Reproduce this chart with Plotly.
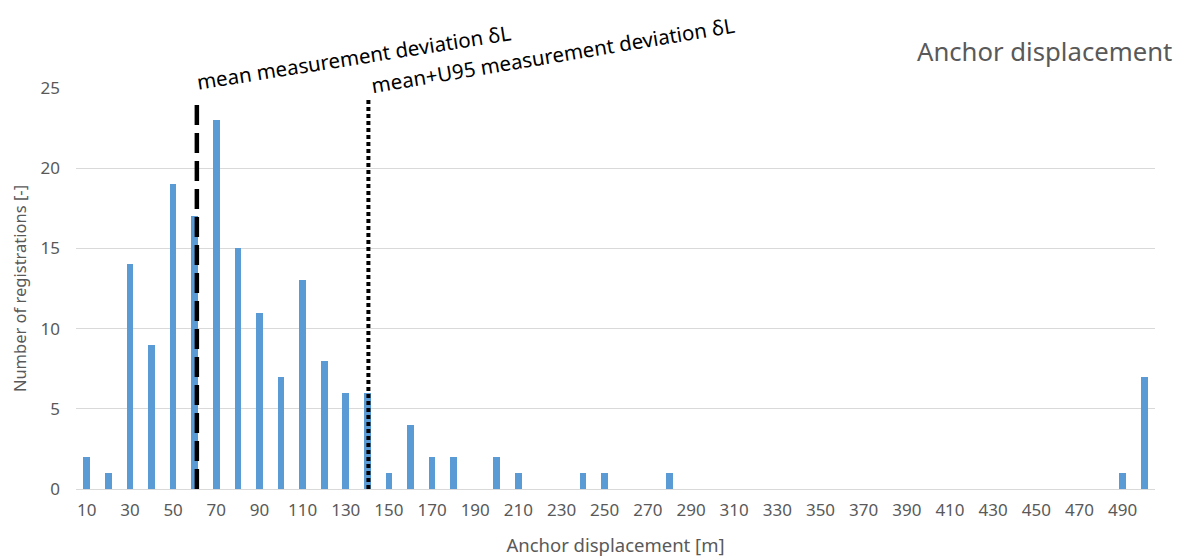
import plotly.graph_objects as go

# Data
categories = list(range(10, 501, 10))
counts = [2, 1, 14, 9, 19, 17, 23, 15, 11, 7,
          13, 8, 6, 6, 1, 4, 2, 2, 0, 2,
          1, 0, 0, 1, 1, 0, 0, 1, 0, 0,
          0, 0, 0, 0, 0, 0, 0, 0, 0, 0,
          0, 0, 0, 0, 0, 0, 0, 0, 1, 7]
tick_labels = list(range(10, 491, 20))
mean_dev = 61
mean_u95_dev = 140.5
line_top = 24.4

FONT = "Noto Sans"
GREY = "#595959"

fig = go.Figure()
fig.add_trace(go.Bar(x=categories, y=counts, width=3.1,
                     marker=dict(color="#5b9bd5", line=dict(width=0)),
                     showlegend=False))
fig.add_trace(go.Scatter(x=[mean_dev, mean_dev], y=[0, line_top], mode="lines",
                         line=dict(color="black", width=4.5, dash="20px,8px"),
                         showlegend=False))
fig.add_trace(go.Scatter(x=[mean_u95_dev, mean_u95_dev], y=[0, line_top], mode="lines",
                         line=dict(color="black", width=4, dash="4px,3px"),
                         showlegend=False))

fig.add_annotation(x=0.2576, y=1.077, xref="paper", yref="paper",
                   xanchor="center", yanchor="middle",
                   text="mean measurement deviation δL",
                   showarrow=False, textangle=-9, font=dict(family=FONT, size=20.5, color="black"))
fig.add_annotation(x=0.442, y=1.082, xref="paper", yref="paper",
                   xanchor="center", yanchor="middle",
                   text="mean+U95 measurement deviation δL",
                   showarrow=False, textangle=-9.5, font=dict(family=FONT, size=20.5, color="black"))
fig.add_annotation(x=1.0175, y=1.0898, xref="paper", yref="paper", text="Anchor displacement",
                   showarrow=False, xanchor="right", yanchor="middle",
                   font=dict(family=FONT, size=25.7, color=GREY))

fig.update_layout(
    width=1184, height=556,
    margin=dict(l=68, r=37, t=80, b=75),
    plot_bgcolor="white", paper_bgcolor="white",
    font=dict(family=FONT, color=GREY),
    bargap=0,
    xaxis=dict(range=[5, 505], tickmode="array", tickvals=tick_labels,
               ticktext=[str(t) for t in tick_labels], automargin=False,
               showgrid=False, showline=True, linecolor="#d9d9d9", linewidth=1,
               ticks="", ticklabelstandoff=6, tickfont=dict(family=FONT, size=17, color=GREY),
               title=dict(text="Anchor displacement [m]", font=dict(family=FONT, size=18.5, color=GREY),
                          standoff=18),
               zeroline=False),
    yaxis=dict(range=[0, 25], dtick=5, showgrid=True, gridcolor="#d9d9d9", gridwidth=1,
               zeroline=False, showline=False, ticks="", ticklabelstandoff=15, automargin=False,
               tickfont=dict(family=FONT, size=17, color=GREY),
               title=dict(text="Number of registrations [-]", font=dict(family=FONT, size=16.5, color=GREY),
                          standoff=11)),
)

fig.write_html("out.html")
